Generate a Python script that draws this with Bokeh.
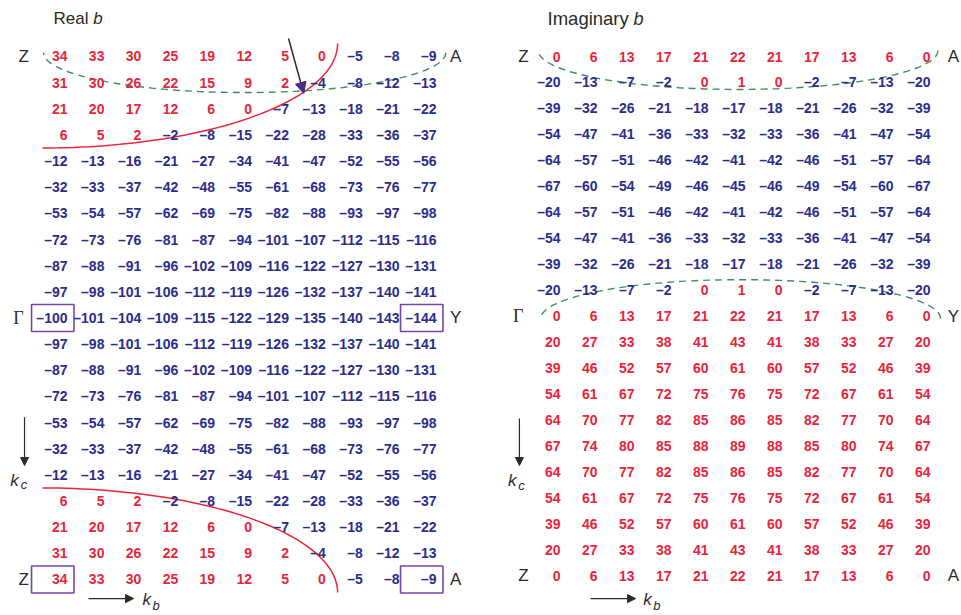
import numpy as np
from bokeh.plotting import figure
from bokeh.models import ColumnDataSource, Range1d, Arrow, NormalHead, Label
from bokeh.layouts import row
from bokeh.embed import file_html
from bokeh.resources import INLINE
from bokeh.core.properties import value

# ---------------- data ----------------
real_b = [
    [34, 33, 30, 25, 19, 12, 5, 0, -5, -8, -9],
    [31, 30, 26, 22, 15, 9, 2, -4, -8, -12, -13],
    [21, 20, 17, 12, 6, 0, -7, -13, -18, -21, -22],
    [6, 5, 2, -2, -8, -15, -22, -28, -33, -36, -37],
    [-12, -13, -16, -21, -27, -34, -41, -47, -52, -55, -56],
    [-32, -33, -37, -42, -48, -55, -61, -68, -73, -76, -77],
    [-53, -54, -57, -62, -69, -75, -82, -88, -93, -97, -98],
    [-72, -73, -76, -81, -87, -94, -101, -107, -112, -115, -116],
    [-87, -88, -91, -96, -102, -109, -116, -122, -127, -130, -131],
    [-97, -98, -101, -106, -112, -119, -126, -132, -137, -140, -141],
    [-100, -101, -104, -109, -115, -122, -129, -135, -140, -143, -144],
    [-97, -98, -101, -106, -112, -119, -126, -132, -137, -140, -141],
    [-87, -88, -91, -96, -102, -109, -116, -122, -127, -130, -131],
    [-72, -73, -76, -81, -87, -94, -101, -107, -112, -115, -116],
    [-53, -54, -57, -62, -69, -75, -82, -88, -93, -97, -98],
    [-32, -33, -37, -42, -48, -55, -61, -68, -73, -76, -77],
    [-12, -13, -16, -21, -27, -34, -41, -47, -52, -55, -56],
    [6, 5, 2, -2, -8, -15, -22, -28, -33, -36, -37],
    [21, 20, 17, 12, 6, 0, -7, -13, -18, -21, -22],
    [31, 30, 26, 22, 15, 9, 2, -4, -8, -12, -13],
    [34, 33, 30, 25, 19, 12, 5, 0, -5, -8, -9],
]

imag_b = [
    [0, 6, 13, 17, 21, 22, 21, 17, 13, 6, 0],
    [-20, -13, -7, -2, 0, 1, 0, -2, -7, -13, -20],
    [-39, -32, -26, -21, -18, -17, -18, -21, -26, -32, -39],
    [-54, -47, -41, -36, -33, -32, -33, -36, -41, -47, -54],
    [-64, -57, -51, -46, -42, -41, -42, -46, -51, -57, -64],
    [-67, -60, -54, -49, -46, -45, -46, -49, -54, -60, -67],
    [-64, -57, -51, -46, -42, -41, -42, -46, -51, -57, -64],
    [-54, -47, -41, -36, -33, -32, -33, -36, -41, -47, -54],
    [-39, -32, -26, -21, -18, -17, -18, -21, -26, -32, -39],
    [-20, -13, -7, -2, 0, 1, 0, -2, -7, -13, -20],
    [0, 6, 13, 17, 21, 22, 21, 17, 13, 6, 0],
    [20, 27, 33, 38, 41, 43, 41, 38, 33, 27, 20],
    [39, 46, 52, 57, 60, 61, 60, 57, 52, 46, 39],
    [54, 61, 67, 72, 75, 76, 75, 72, 67, 61, 54],
    [64, 70, 77, 82, 85, 86, 85, 82, 77, 70, 64],
    [67, 74, 80, 85, 88, 89, 88, 85, 80, 74, 67],
    [64, 70, 77, 82, 85, 86, 85, 82, 77, 70, 64],
    [54, 61, 67, 72, 75, 76, 75, 72, 67, 61, 54],
    [39, 46, 52, 57, 60, 61, 60, 57, 52, 46, 39],
    [20, 27, 33, 38, 41, 43, 41, 38, 33, 27, 20],
    [0, 6, 13, 17, 21, 22, 21, 17, 13, 6, 0],
]

titles = ["Real", "Imaginary"]
corner_left = ["Z", "\u0393", "Z"]
corner_right = ["A", "Y", "A"]
corner_rows = [0, 10, 20]
boxed_cells = [(0, 10), (10, 10), (0, 20), (10, 20)]  # (col, row) on Real b

# ---------------- styles ----------------
RED = "#e8253a"
BLUE = "#2b2d8c"
PURPLE = "#7a43a8"
GREEN = "#3d8f5e"
DARK = "#2a2a2a"
NUM_FONT = "Liberation Sans"
LAB_FONT = "Liberation Sans"


def fmt(v):
    return ("\u2013" + str(-v)) if v < 0 else str(v)


def make_fig(width, x0, x1, y0, y1):
    p = figure(width=width, height=615, x_range=Range1d(x0, x1),
               y_range=Range1d(y1, y0), output_backend="svg",
               toolbar_location=None, min_border=0,
               x_axis_type=None, y_axis_type=None)
    p.grid.visible = False
    p.outline_line_color = None
    p.background_fill_color = "white"
    p.border_fill_color = "white"
    return p


def draw_numbers(p, grid):
    xs, ys, txt, col = [], [], [], []
    for r, rowvals in enumerate(grid):
        for c, v in enumerate(rowvals):
            xs.append(c)
            ys.append(r)
            txt.append(fmt(v))
            col.append(RED if v >= 0 else BLUE)
    src = ColumnDataSource(dict(x=xs, y=ys, t=txt, c=col))
    p.text(x="x", y="y", text="t", text_color="c", source=src,
           text_align="right", text_baseline="middle",
           text_font=value(NUM_FONT), text_font_size="14px",
           text_font_style="bold")


def lab(p, x, y, text, size="17px", style="normal", align="center",
        font=LAB_FONT, color=DARK):
    p.add_layout(Label(x=x, y=y, text=text, text_font=font,
                       text_font_size=size, text_font_style=style,
                       text_align=align, text_baseline="middle",
                       text_color=color))


def kc_block(p, xa, ya0, ya1, xk, yk):
    p.add_layout(Arrow(x_start=xa, y_start=ya0, x_end=xa, y_end=ya1,
                       line_color=DARK, line_width=1.2,
                       end=NormalHead(size=8, fill_color=DARK, line_color=DARK)))
    lab(p, xk, yk, "k", size="17px", style="italic", align="left")
    lab(p, xk + 0.28, yk + 0.18, "c", size="13px", style="italic", align="left")


def kb_block(p, xa0, xa1, ya, xk):
    p.add_layout(Arrow(x_start=xa0, y_start=ya, x_end=xa1, y_end=ya,
                       line_color=DARK, line_width=1.2,
                       end=NormalHead(size=8, fill_color=DARK, line_color=DARK)))
    lab(p, xk, ya + 0.05, "k", size="17px", style="italic", align="left")
    lab(p, xk + 0.27, ya + 0.25, "b", size="13px", style="italic", align="left")


theta_q = np.linspace(0, np.pi / 2, 60)
theta_h = np.linspace(0, np.pi, 90)

# ---------------- left: Real b ----------------
pl = make_fig(480, -1.816, 11.192, -2.141, 21.377)

# Fermi-surface curves (quarter ellipses)
ecx, ea, eb = -0.68, 8.0, 4.0
pl.line(ecx + ea * np.cos(theta_q), -0.5 + eb * np.sin(theta_q),
        line_color=RED, line_width=1.5)
pl.line(ecx + ea * np.cos(theta_q), 20.5 - eb * np.sin(theta_q),
        line_color=RED, line_width=1.5)
# green dashed
pl.line(4.8 + 5.45 * np.cos(theta_h), -0.15 + 1.53 * np.sin(theta_h),
        line_color=GREEN, line_width=1.4, line_dash="7 5")

draw_numbers(pl, real_b)

# boxes
bx = [c - 0.4 for c, r in boxed_cells]
by = [r for c, r in boxed_cells]
pl.rect(x=bx, y=by, width=1.15, height=1.03, fill_color=None,
        line_color=PURPLE, line_width=1.6)

# arrow pointing at crossing
pl.add_layout(Arrow(x_start=5.99, y_start=-0.69, x_end=6.4, y_end=1.41,
                    line_color=DARK, line_width=1.5,
                    end=NormalHead(size=11, fill_color="#4a2a86", line_color="#4a2a86")))

lab(pl, -0.38, -1.45, titles[0], size="17px", align="left")
lab(pl, 0.7, -1.45, "b", size="17px", style="italic", align="left")
for t, r in zip(corner_left, corner_rows):
    if t == "\u0393":
        lab(pl, -1.33, r, t, size="18px", font="Liberation Serif")
    else:
        lab(pl, -1.19, r, t)
for t, r in zip(corner_right, corner_rows):
    lab(pl, 10.52, r, t)

kc_block(pl, -1.165, 13.8, 15.64, -1.55, 16.2)
kb_block(pl, 0.57, 1.79, 20.73, 2.03)

# ---------------- right: Imaginary b ----------------
pr = make_fig(481, -2.162, 10.838, -2.158, 21.541)

pr.line(4.8 + 5.4 * np.cos(theta_h), -0.23 + 1.5 * np.sin(theta_h),
        line_color=GREEN, line_width=1.4, line_dash="7 5")
pr.line(4.87 + 5.4 * np.cos(theta_h), 10.1 - 1.5 * np.sin(theta_h),
        line_color=GREEN, line_width=1.4, line_dash="7 5")

draw_numbers(pr, imag_b)

lab(pr, -0.35, -1.45, titles[1], size="18.5px", align="left")
lab(pr, 1.97, -1.45, "b", size="18px", style="italic", align="left")
for t, r in zip(corner_left, corner_rows):
    if t == "\u0393":
        lab(pr, -1.14, r, t, size="18px", font="Liberation Serif")
    else:
        lab(pr, -1.0, r, t)
for t, r in zip(corner_right, corner_rows):
    lab(pr, 10.62, r, t)

kc_block(pr, -1.11, 13.95, 15.76, -1.42, 16.34)
kb_block(pr, 0.81, 2.03, 20.89, 2.24)

layout = row(pl, pr)
open("out.html", "w").write(file_html(layout, INLINE))
